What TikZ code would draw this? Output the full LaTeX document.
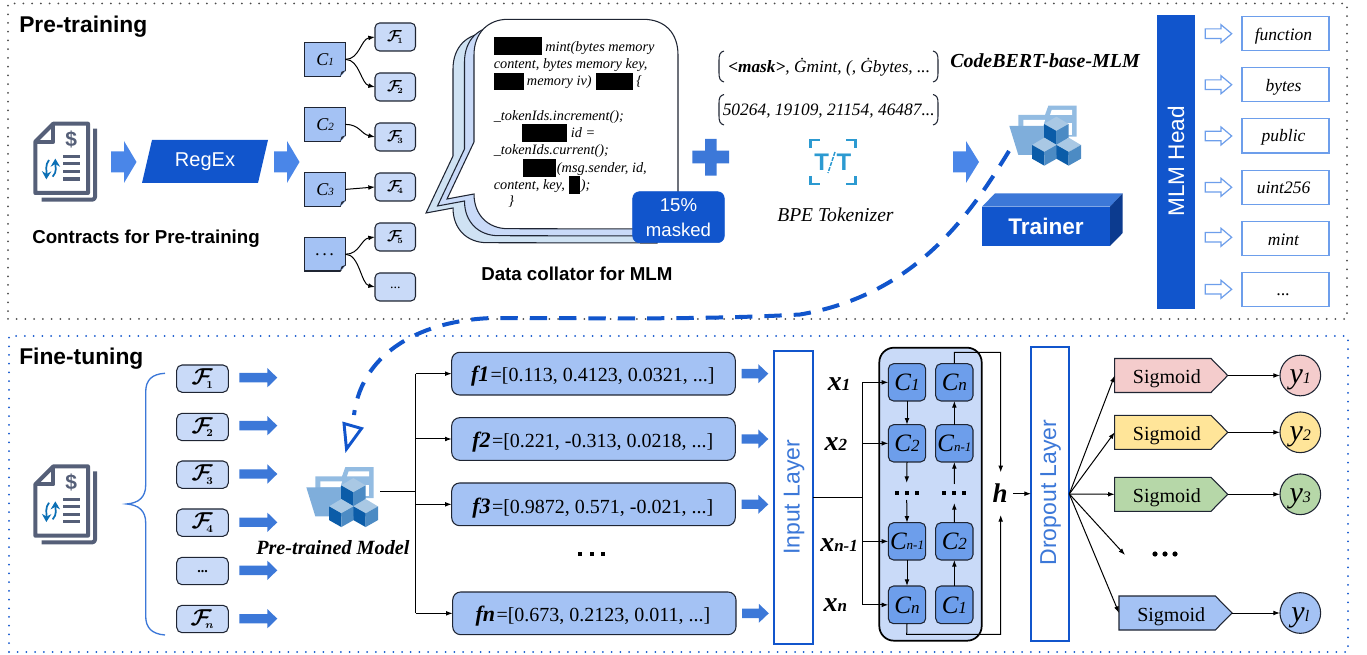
\documentclass[tikz,border=0pt]{standalone}
\usepackage{fontspec}
\usepackage{amsmath}
\setmainfont{Liberation Serif}
\setsansfont{Liberation Sans}
\usetikzlibrary{arrows.meta}
\definecolor{hdr}{HTML}{1155CC}
\definecolor{mid}{HTML}{3C78D8}
\definecolor{arr}{HTML}{4A86E8}
\definecolor{lite}{HTML}{6D9EEB}
\definecolor{bluec}{HTML}{A4C2F4}
\definecolor{blued}{HTML}{C9DAF8}
\definecolor{bluee}{HTML}{CFE2F3}
\definecolor{dk}{HTML}{1F2533}
\definecolor{ico}{HTML}{555F78}
\definecolor{icob}{HTML}{0B6FB5}
\definecolor{tt}{HTML}{2C9AD1}
\newcommand\px[1]{\fontsize{\fpeval{#1*0.75}pt}{\fpeval{#1*0.9}pt}\selectfont}
% box by pixel corners: name, style, x0,y0,x1,y1, text
\newcommand\pbox[7]{%
  \pgfmathsetmacro\bcx{(#3+#5)/2}\pgfmathsetmacro\bcy{(#4+#6)/2}%
  \pgfmathsetmacro\bw{(#5-#3)*0.75}\pgfmathsetmacro\bh{(#6-#4)*0.75}%
  \node[#2,minimum width=\bw pt,minimum height=\bh pt] (#1) at (\bcx,\bcy) {#7};}
% text at baseline
\newcommand\txt[5]{\node[anchor=base west,inner sep=0pt,#4] (#1) at (#2,#3) {#5};}
\newcommand\ctxt[5]{\node[anchor=base,inner sep=0pt,#4] (#1) at (#2,#3) {#5};}
% block arrow
\newcommand\barrow[7]{\path[#7] (#1,#4-#5)--(#2,#4-#5)--(#2,#4-#6)--(#3,#4)--(#2,#4+#6)--(#2,#4+#5)--(#1,#4+#5)--cycle;}
\newcommand\FF[1]{$\boldsymbol{\mathcal{F}}\mkern-5mu_{\scriptscriptstyle\boldsymbol{#1}}$}
\newcommand\cellt[2]{{\itshape\px{25}C\px{#2}#1}}
\newcommand\sdots{.\kern2pt.\kern2pt.}
% dog-ear
\newcommand\ear[2]{\fill[white] (#1-5,#2+0.8)--(#1+0.8,#2+0.8)--(#1+0.8,#2-6)--cycle;
  \fill[dk] (#1-5.5,#2)--(#1-4,#2-4.5)--(#1,#2-6)--cycle;}
% document icon
\newcommand\docicon[1]{\begin{scope}[shift={(0,#1)},x=0.25pt,y=-0.25pt]
  \draw[ico,line width=3pt,line join=round,rounded corners=2pt] (285,386)--(285,599)--(125,599);
  \draw[ico,fill=white,line width=3pt,line join=round] (160,371)--(264,371)--(264,579)--(106,579)--(106,425)--cycle;
  \draw[ico,line width=3pt,line join=round] (160,371)--(160,425)--(106,425);
  \node[ico,font=\sffamily\bfseries\px{21}] (dollar#1) at (214,419) {\$};
  \foreach \yb in {470,491,515,537} \draw[ico,line width=2.5pt] (190,\yb)--(240,\yb);
  \draw[icob,line width=1.3pt,-{Stealth[length=6pt,width=7pt]}] (147,480) .. controls (135,495) and (140,510) .. (139,538);
  \draw[icob,line width=1.3pt,-{Stealth[length=6pt,width=7pt]}] (158,530) .. controls (172,515) and (166,500) .. (166,476);
\end{scope}}
% folder + cubes
\newcommand\cube[2]{%
  \fill[cubt] (#1,#2)--(#1+37,#2-22)--(#1+74,#2)--(#1+37,#2+21)--cycle;
  \fill[cubl] (#1,#2)--(#1+37,#2+21)--(#1+37,#2+62)--(#1,#2+41)--cycle;
  \fill[cubr] (#1+37,#2+21)--(#1+74,#2)--(#1+74,#2+41)--(#1+37,#2+62)--cycle;}
\definecolor{cubt}{HTML}{A9C8E4}
\definecolor{cubl}{HTML}{0B5CA8}
\definecolor{cubr}{HTML}{4C8BC4}
\definecolor{fold}{HTML}{7FAEDB}
\definecolor{foldb}{HTML}{93BCE2}
\newcommand\foldicon[2]{\begin{scope}[shift={(#1,#2)},x=0.25pt,y=-0.25pt]
  \fill[foldb] (265,345)--(345,345)--(355,317)--(440,317)--(440,410)--(265,410)--cycle;
  \fill[white] (365,330)--(426,330)--(426,345)--(360,345)--cycle;
  \fill[white] (280,360)--(345,360)--(340,378)--(280,378)--cycle;
  \fill[white] (412,370)--(426,370)--(426,405)--(412,405)--cycle;
  \fill[fold] (238,378)--(405,378)--(420,465)--(265,465)--cycle;
  \cube{342}{372}
  \cube{306}{435}
  \cube{379}{435}
\end{scope}}
\tikzset{
  conn/.style={draw=black,line width=0.75pt,-{Latex[length=5pt,width=3.6pt]}},
  plain/.style={draw=black,line width=0.75pt},
  framebox/.style={line width=1.5pt,line cap=round,dash pattern=on 0pt off 6.55pt,inner sep=0pt,outer sep=0pt},
  cbox/.style={draw=dk,fill=bluec,line width=0.8pt,inner sep=0pt,outer sep=0pt,font=\itshape\px{18}},
  fbox/.style={draw=dk,fill=blued,line width=0.8pt,rounded corners=3.5pt,inner sep=0pt,outer sep=0pt,font=\px{17}},
  ffbox/.style={draw=dk,fill=blued,line width=0.8pt,rounded corners=4pt,inner sep=0pt,outer sep=0pt,font=\px{22}},
  tokbox/.style={draw=lite,fill=white,line width=1pt,inner sep=0pt,outer sep=0pt},
  toktxt/.style={font=\itshape\px{17.5}},
  vecbox/.style={draw=dk,fill=bluec,line width=0.8pt,rounded corners=6pt,inner sep=0pt,outer sep=0pt,font=\px{20}},
  lstmcell/.style={draw=dk,fill=lite,line width=0.8pt,rounded corners=4pt,inner sep=0pt,outer sep=0pt},
  layerbox/.style={draw=hdr,fill=white,line width=1.5pt,inner sep=0pt,outer sep=0pt},
  ycirc/.style={circle,draw=dk,line width=0.8pt,minimum size=30.5pt,inner sep=0pt,outer sep=0pt},
  blk/.style={fill=arr},
  blk2/.style={fill=mid},
  hollow/.style={draw=lite,fill=white,line width=0.9pt},
  dashblue/.style={draw=hdr,line width=3pt,dash pattern=on 13pt off 9pt},
}
\begin{document}
\begin{tikzpicture}[x=0.75pt,y=-0.75pt]
\useasboundingbox (0,0) rectangle (1367,655);
% frames
\pbox{pre}{framebox,draw=black!70}{8}{3.5}{1347}{319}{}
\pbox{fine}{framebox,draw=hdr}{9}{336}{1348}{652}{}
\txt{pretitle}{19}{32.5}{font=\sffamily\bfseries\px{22.8}}{Pre-training}
\txt{finetitle}{19}{364.5}{font=\sffamily\bfseries\px{22.8}}{Fine-tuning}
% pre-training left
\docicon{0}
\barrow{111}{124}{136.5}{162}{10.5}{21}{blk}
\barrow{274}{287}{299.5}{162}{10.5}{21}{blk}
\barrow{953}{966}{979}{162}{10.5}{21}{blk}
\fill[hdr] (152,140)--(268,140)--(258,183)--(142,183)--cycle;
\node[text=white,font=\sffamily\px{20},inner sep=0pt] (regex) at (205,162) {RegEx};
\txt{contracts}{32}{244}{font=\sffamily\bfseries\px{18.7}}{Contracts for Pre-training}
% C boxes
\pbox{c1}{cbox}{304.5}{42.5}{345.5}{76.3}{C{\px{11}1}}
\pbox{c2}{cbox}{304.5}{107.5}{345.5}{141.3}{C{\px{11}2}}
\pbox{c3}{cbox}{304.5}{172.5}{345.5}{206.3}{C{\px{11}3}}
\pbox{c4}{cbox}{304.5}{237.5}{345.5}{271}{\raisebox{-2pt}{\sdots}}
\ear{345.5}{76.3}\ear{345.5}{141.3}\ear{345.5}{206.3}\ear{345.5}{271}
% F boxes
\pbox{f1}{fbox}{375}{23}{415.5}{51}{\FF{1}}
\pbox{f2}{fbox}{375}{73}{415.5}{101}{\FF{2}}
\pbox{f3}{fbox}{375}{123}{415.5}{151}{\FF{3}}
\pbox{f4}{fbox}{375}{173}{415.5}{201}{\FF{4}}
\pbox{f5}{fbox}{375}{223}{415.5}{251}{\FF{5}}
\pbox{f6}{fbox,font=\px{14}}{375}{273}{415.5}{301}{\raisebox{-2pt}{...}}
\draw[conn] (c1.east) .. controls +(14,0) and +(-14,2) .. (f1.west);
\draw[conn] (c1.east) .. controls +(14,0) and +(-14,-3) .. (f2.west);
\draw[conn] (c2.east) .. controls +(14,0) and +(-14,-3) .. (f3.west);
\draw[conn] (c3.east) -- (f4.west);
\draw[conn] (c4.east) .. controls +(14,0) and +(-14,2) .. (f5.west);
\draw[conn] (c4.east) .. controls +(14,0) and +(-14,-3) .. (f6.west);
% speech bubble layers
\newcommand\bubble[3]{\begin{scope}[shift={(#1,#2)}]
  \draw[dk,fill=#3,line width=0.8pt] (508,19.3)--(643,19.3) .. controls (665,19.3) and (678,33) .. (678,55)
   --(678,194)--(678,229)--(508,228.7) .. controls (488,228.7) and (474,215) .. (474,194)
   --(447,199)--(474,142)--(474,55) .. controls (474,33) and (488,19.3) .. (508,19.3)--cycle;
\end{scope}}
\bubble{-21}{14}{bluee}
\bubble{-9.5}{7}{blued}
\bubble{0}{0}{white}
\fill[black] (494,37.3) rectangle (541.7,54.7);
\fill[black] (494,72.7) rectangle (524,90);
\fill[black] (596,72.7) rectangle (632.7,90);
\fill[black] (522,124.3) rectangle (566.7,141.7);
\fill[black] (523,159.3) rectangle (555.7,176.7);
\fill[black] (569,176) rectangle (580,193.7);
\tikzset{code/.style={font=\itshape\px{14.3}}}
\txt{cd1}{545}{51.7}{code}{mint(bytes memory}
\txt{cd2}{493.5}{69}{code}{content, bytes memory key,}
\txt{cd3}{526.7}{86}{code}{memory iv)}
\txt{cd4}{636}{86}{code}{\{}
\txt{cd5}{493.5}{120.7}{code}{\_tokenIds.increment();}
\txt{cd6}{570.7}{137.7}{code}{id =}
\txt{cd7}{493.5}{155}{code}{\_tokenIds.current();}
\txt{cd8}{556.7}{172.7}{code}{(msg.sender, id,}
\txt{cd9}{493.5}{190}{code}{content, key,}
\txt{cd10}{580.7}{190}{code}{);}
\txt{cd11}{508}{206}{code}{\}}
\pbox{masked}{draw=hdr,fill=hdr,rounded corners=5pt,inner sep=0pt,outer sep=0pt,text=white,font=\sffamily\px{18.6},align=center}{632.7}{191.7}{724.3}{242.7}{15\%\\[2pt]masked}
\txt{collator}{481}{281}{font=\sffamily\bfseries\px{18.7}}{Data collator for MLM}
% plus
\fill[mid] (705,139)--(716.7,139)--(716.7,150.7)--(729,150.7)--(729,163.3)--(716.7,163.3)--(716.7,175.7)--(705,175.7)--(705,163.3)--(692.3,163.3)--(692.3,150.7)--(705,150.7)--cycle;
% tokens
\draw[dk,line width=0.8pt] (724,51) .. controls (720,52) and (719,55) .. (719,60)--(719,73) .. controls (719,78) and (720,81) .. (724,82);
\draw[dk,line width=0.8pt] (724,94.5) .. controls (720,95.5) and (719,98) .. (719,103)--(719,116) .. controls (719,121) and (720,124) .. (724,125);
\draw[dk,line width=0.8pt] (933,51) .. controls (937,52) and (938,55) .. (938,60)--(938,73) .. controls (938,78) and (937,81) .. (933,82);
\draw[dk,line width=0.8pt] (933,94.5) .. controls (937,95.5) and (938,98) .. (938,103)--(938,116) .. controls (938,121) and (937,124) .. (933,125);
\txt{tok1}{728}{72.7}{font=\itshape\px{17.3}}{\textbf{<mask>}, Ġmint, (, Ġbytes, ...}
\txt{tok2}{722.5}{116}{font=\itshape\px{17.4}}{50264, 19109, 21154, 46487...}
% T/T icon
\draw[tt,line width=1.7pt] (810.5,148)--(810.5,140)--(820,140);
\draw[tt,line width=1.7pt] (846,140)--(855.5,140)--(855.5,148);
\draw[tt,line width=1.7pt] (810.5,176)--(810.5,184)--(820,184);
\draw[tt,line width=1.7pt] (846,184)--(855.5,184)--(855.5,176);
\node[text=tt,font=\sffamily\bfseries\px{24},inner sep=0pt] (t1) at (821.7,162) {T};
\node[text=tt,font=\sffamily\bfseries\px{24},inner sep=0pt] (t2) at (844,162) {T};
\draw[tt,line width=1.1pt,dash pattern=on 3pt off 1pt] (835,152)--(828,173);
\txt{bpe}{777}{221.7}{font=\itshape\px{19.6}}{BPE Tokenizer}
\txt{cbm}{950}{68}{font=\itshape\bfseries\px{19.9}}{CodeBERT-base-MLM}
\foldicon{930}{0}
% trainer
\fill[mid] (982,206.7)--(995,193.3)--(1122.7,193.3)--(1110,206.7)--cycle;
\fill[hdr!70!black] (1110,206.7)--(1122.7,193.3)--(1122.7,233)--(1110,246)--cycle;
\pbox{trainer}{fill=hdr,inner sep=0pt,outer sep=0pt,text=white,font=\sffamily\bfseries\px{22.6}}{982}{206.7}{1110}{246}{Trainer}
% MLM head
\pbox{mlmbar}{fill=hdr,inner sep=0pt,outer sep=0pt}{1157}{15}{1195}{309}{}
\node[rotate=90,text=white,font=\sffamily\px{22.6},inner sep=0pt] (mlm) at (1176,161.3) {MLM Head};
\foreach \yc in {33.7,84.7,136,187.3,237.3,289.3} {\barrow{1205.3}{1221}{1231.7}{\yc}{4.8}{9}{hollow}}
\pbox{k1}{tokbox}{1242}{16.3}{1329}{50.7}{}
\pbox{k2}{tokbox}{1242}{67.7}{1329}{101.7}{}
\pbox{k3}{tokbox}{1242}{118.7}{1329}{153}{}
\pbox{k4}{tokbox}{1242}{170.3}{1329}{204.3}{}
\pbox{k5}{tokbox}{1242}{221.3}{1329}{255.7}{}
\pbox{k6}{tokbox}{1242}{272.7}{1329}{306.7}{}
\ctxt{kt1}{1283.5}{40.5}{toktxt}{function}
\ctxt{kt2}{1283.5}{91.5}{toktxt}{bytes}
\ctxt{kt3}{1283.5}{142}{toktxt}{public}
\ctxt{kt4}{1283.5}{194}{toktxt}{uint256}
\ctxt{kt5}{1283.5}{245.5}{toktxt}{mint}
\ctxt{kt6}{1283.5}{296}{toktxt}{...}
% fine-tuning
\docicon{342.7}
\draw[mid,line width=1pt] (165,373.3) .. controls (152,374) and (145.7,380) .. (145.7,392)--(145.7,485) .. controls (145.7,497) and (139,503) .. (126.7,504) .. controls (139,505) and (145.7,511) .. (145.7,523)--(145.7,616) .. controls (145.7,628) and (152,634) .. (165,635);
\pbox{g1}{ffbox}{176.7}{365}{228.3}{392.3}{\FF{1}}
\pbox{g2}{ffbox}{176.7}{413.3}{228.3}{440.7}{\FF{2}}
\pbox{g3}{ffbox}{176.7}{461}{228.3}{488.3}{\FF{3}}
\pbox{g4}{ffbox}{176.7}{509}{228.3}{536.3}{\FF{4}}
\pbox{g5}{ffbox,font=\bfseries\px{14}}{176.7}{557.3}{228.3}{584.7}{\raisebox{-2pt}{...}}
\pbox{g6}{ffbox}{176.7}{605.3}{228.3}{632.7}{\FF{n}}
\foreach \yc in {377.7,425.7,474,522.3,570.3,618.7} {\barrow{239.3}{267.3}{277.3}{\yc}{4.7}{9.7}{blk2}}
\foldicon{227}{361.4}
\coordinate (modelout) at (380,492);
\txt{ptm}{256}{554}{font=\itshape\bfseries\px{20.2}}{Pre-trained Model}
% vectors
\pbox{v1}{vecbox}{451.7}{352.3}{735.3}{395}{}
\pbox{v2}{vecbox}{451.7}{417.7}{735.3}{460.3}{}
\pbox{v3}{vecbox}{451.7}{483}{735.3}{525.7}{}
\pbox{v4}{vecbox}{452.7}{592}{736}{634.7}{}
\newcommand\vlab[1]{{\itshape\bfseries\px{22}#1}\kern1pt}
\ctxt{vt1}{592.8}{382}{font=\px{20}}{\vlab{f1}=[0.113, 0.4123, 0.0321, ...]}
\ctxt{vt2}{592.8}{447.5}{font=\px{20}}{\vlab{f2}=[0.221, -0.313, 0.0218, ...]}
\ctxt{vt3}{592.8}{513}{font=\px{20}}{\vlab{f3}=[0.9872, 0.571, -0.021, ...]}
\ctxt{vt4}{593}{621.5}{font=\px{20}}{\vlab{fn}=[0.673, 0.2123, 0.011, ...]}
\foreach \xd in {580,591.7,603.3} \fill[black] (\xd-2,552) rectangle (\xd+2,556);
% tree
\coordinate (tree) at (415.7,492);
\draw[plain] (modelout) -- (tree);
\draw[plain] (tree |- v1.west) -- (tree |- v4.west);
\draw[conn] (tree |- v1.west) -- (v1.west);
\draw[conn] (tree |- v2.west) -- (v2.west);
\draw[conn] (tree |- v3.west) -- (v3.west);
\draw[conn] (tree |- v4.west) -- (v4.west);
\foreach \yc in {373.7,439,504.3} {\barrow{741.7}{758.3}{768.3}{\yc}{4.7}{9.5}{blk2}}
\barrow{742.2}{758.8}{768.8}{613.3}{4.7}{9.5}{blk2}
% input layer
\pbox{input}{layerbox}{774}{350.7}{812.7}{644.3}{}
\node[rotate=90,text=mid,font=\sffamily\px{23},inner sep=0pt] (inputt) at (794,497.3) {Input Layer};
\tikzset{xl/.style={font=\itshape\bfseries\px{28}}}
\newcommand\xsub[1]{{\px{17}#1}}
\txt{x1}{827.7}{390.7}{xl}{x\xsub{1}}
\txt{x2}{824.3}{450.7}{xl}{x\xsub{2}}
\txt{x3}{820}{551.7}{xl}{x\xsub{n-1}}
\txt{x4}{823.3}{611.7}{xl}{x\xsub{n}}
% LSTM
\pbox{lstm}{draw=black,fill=blued,line width=1.3pt,rounded corners=11pt,inner sep=0pt,outer sep=0pt}{879.3}{347.7}{981.7}{640.7}{}
\pbox{a1}{lstmcell}{888.3}{363.7}{925.7}{401}{\cellt{1}{17}}
\pbox{a2}{lstmcell}{888.3}{424.7}{925.7}{462}{\cellt{2}{17}}
\pbox{a3}{lstmcell}{888.3}{522.7}{925.7}{560}{\cellt{n-1}{13}}
\pbox{a4}{lstmcell}{888.3}{586}{925.7}{623.7}{\cellt{n}{17}}
\pbox{b1}{lstmcell}{935.7}{363.7}{973}{401}{\cellt{n}{17}}
\pbox{b2}{lstmcell}{935.7}{424.7}{973}{462}{\cellt{n-1}{13}}
\pbox{b3}{lstmcell}{935.7}{522.7}{973}{560}{\cellt{2}{17}}
\pbox{b4}{lstmcell}{935.7}{586}{973}{623.7}{\cellt{1}{17}}
\foreach \xd in {896.7,906.7,916.7,944.3,954,964} \fill[black] (\xd-2,490.7) rectangle (\xd+2,494.7);
\coordinate (ad1) at (906.7,483);\coordinate (ad2) at (906.7,500);
\coordinate (bd1) at (954.3,503);\coordinate (bd2) at (954.3,484);
\draw[conn] (a1.south) -- (a2.north);
\draw[conn] (a2.south) -- (ad1);
\draw[conn] (ad2) -- (a3.north);
\draw[conn] (a3.south) -- (a4.north);
\draw[conn] (b4.north) -- (b3.south);
\draw[conn] (b3.north) -- (bd1);
\draw[conn] (bd2) -- (b2.south);
\draw[conn] (b2.north) -- (b1.south);
\coordinate (bus) at (862.3,497.7);
\draw[plain] (input.east |- bus) -- (bus);
\draw[plain] (bus |- a1.west) -- (bus |- a4.west);
\draw[conn] (bus |- a1.west) -- (a1.west);
\draw[conn] (bus |- a2.west) -- (a2.west);
\draw[conn] (bus |- a3.west) -- (a3.west);
\draw[conn] (bus |- a4.west) -- (a4.west);
\ctxt{hh}{1000}{503}{font=\itshape\bfseries\px{27}}{h}
\coordinate (htop) at (1000.7,472.3);\coordinate (hbot) at (1000.7,515);
\draw[conn] (b1.north) -- (954.3,352.3) -- (1000.7,352.3) -- (htop);
\draw[conn] (a4.south) -- (906.7,634.3) -- (1000.7,634.3) -- (hbot);
\pbox{drop}{layerbox}{1031}{347}{1069.3}{640.7}{}
\node[rotate=90,text=mid,font=\sffamily\px{23},inner sep=0pt] (dropt) at (1050.7,492.5) {Dropout Layer};
\coordinate (hout) at (1013.3,493.7);
\draw[conn] (hout) -- (drop.west |- hout);
% sigmoid
\newcommand\sigm[6]{% name,x0,xs,xt,ymid,colour
  \draw[dk,fill=#6,line width=0.8pt] (#2,#5-17)--(#3,#5-17)--(#4,#5)--(#3,#5+17)--(#2,#5+17)--cycle;
  \coordinate (#1w) at (#2,#5);\coordinate (#1e) at (#4,#5);
  \pgfmathsetmacro\stx{(#2+#3)/2+4}
  \ctxt{#1t}{\stx}{#5+8}{font=\px{20}}{Sigmoid}}
\definecolor{sa}{HTML}{F4CCCC}\definecolor{sb}{HTML}{FFE599}\definecolor{sc}{HTML}{B6D7A8}
\sigm{s1}{1114.7}{1211}{1227.7}{375.5}{sa}
\sigm{s2}{1114.7}{1211}{1227.7}{432.3}{sb}
\sigm{s3}{1114.7}{1211}{1227.7}{494.3}{sc}
\sigm{s4}{1119}{1215.3}{1232}{613}{bluec}
\node[ycirc,fill=sa] (y1) at (1300.3,375.5) {};
\node[ycirc,fill=sb] (y2) at (1300.3,432.3) {};
\node[ycirc,fill=sc] (y3) at (1300.3,494.3) {};
\node[ycirc,fill=bluec] (y4) at (1300.3,613) {};
\newcommand\yy[1]{{\itshape\px{30}y\px{16}#1}}
\ctxt{yt1}{1300.3}{384}{}{\yy{1}}
\ctxt{yt2}{1300.3}{440.8}{}{\yy{2}}
\ctxt{yt3}{1300.3}{502.8}{}{\yy{3}}
\ctxt{yt4}{1300.3}{621.5}{}{\yy{l}}
\draw[conn] (s1e) -- (y1.west);
\draw[conn] (s2e) -- (y2.west);
\draw[conn] (s3e) -- (y3.west);
\draw[conn] (s4e) -- (y4.west);
\coordinate (dout) at (1069.3,494);
\coordinate (dfree) at (1125,555);
\draw[conn] (dout) -- (s1w);
\draw[conn] (dout) -- (s2w);
\draw[conn] (dout) -- (s3w);
\draw[conn] (dout) -- (dfree);
\draw[conn] (dout) -- (s4w);
\foreach \xd in {1155,1165,1175} \fill[black] (\xd,554) circle (2.6);
% dashed transfer arrow
\coordinate (dstart) at (1009,151);
\coordinate (dmid) at (800,314.5);
\coordinate (dmid2) at (493,318);
\coordinate (dend) at (354,415);
\draw[dashblue] (dstart) .. controls (970,215) and (915,295) .. (dmid) .. controls (700,320) and (600,318) .. (dmid2) .. controls (425,320) and (362,350) .. (dend);
\draw[hdr,fill=white,line width=2.2pt,line join=miter] (344,423.5)--(361.5,428.5)--(346.5,449)--cycle;
\end{tikzpicture}
\end{document}
